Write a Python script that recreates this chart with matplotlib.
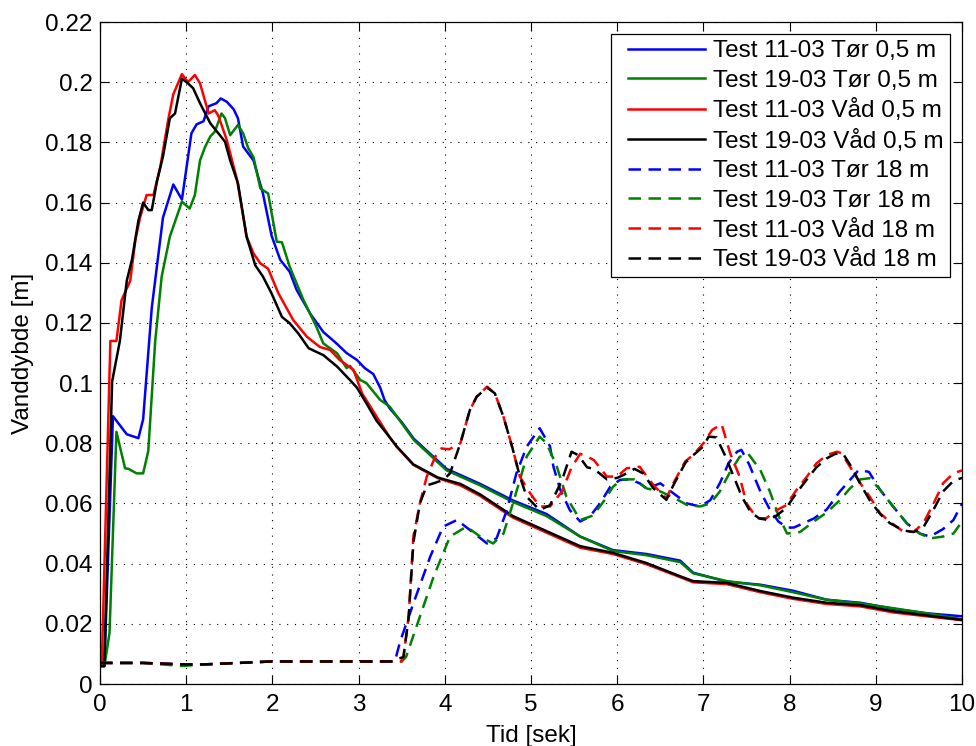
import matplotlib
matplotlib.use("Agg")
import matplotlib.pyplot as plt
from matplotlib.ticker import FuncFormatter
from matplotlib.legend_handler import HandlerLine2D

plt.rcParams['font.family'] = ['Liberation Sans', 'DejaVu Sans']

# ---------------- data ----------------
labels = ["Test 11-03 Tør 0,5 m", "Test 19-03 Tør 0,5 m", "Test 11-03 Våd 0,5 m",
          "Test 19-03 Våd 0,5 m", "Test 11-03 Tør 18 m", "Test 19-03 Tør 18 m",
          "Test 11-03 Våd 18 m", "Test 19-03 Våd 18 m"]

t_tor1103_05 = [0, 0.05, 0.15, 0.31, 0.445, 0.50, 0.60, 0.73, 0.85, 0.95, 1.005, 1.06, 1.12, 1.20,
                1.26, 1.35, 1.40, 1.47, 1.55, 1.60, 1.66, 1.78, 1.89, 1.99, 2.09, 2.20, 2.28, 2.44,
                2.59, 2.75, 2.86, 2.98, 3.07, 3.17, 3.25, 3.30, 3.36, 3.5, 3.64, 4.02, 4.41, 4.79,
                5.18, 5.57, 5.95, 6.34, 6.73, 6.88, 7.27, 7.66, 8.04, 8.43, 8.82, 9.20, 9.59, 10.0]
v_tor1103_05 = [0.006, 0.006, 0.089, 0.083, 0.0817, 0.088, 0.125, 0.155, 0.166, 0.161, 0.172, 0.183,
                0.186, 0.187, 0.192, 0.193, 0.1946, 0.1935, 0.191, 0.188, 0.1786, 0.174, 0.163, 0.149,
                0.141, 0.137, 0.131, 0.123, 0.117, 0.113, 0.110, 0.1077, 0.105, 0.103, 0.0985, 0.0944,
                0.0916, 0.087, 0.0815, 0.0715, 0.0665, 0.061, 0.0565, 0.049, 0.0445, 0.0432, 0.041,
                0.037, 0.034, 0.033, 0.031, 0.028, 0.027, 0.025, 0.0235, 0.0225]

t_tor1903_05 = [0, 0.05, 0.11, 0.19, 0.29, 0.33, 0.425, 0.50, 0.56, 0.64, 0.715, 0.81, 0.95, 1.04,
                1.10, 1.16, 1.22, 1.28, 1.33, 1.41, 1.45, 1.51, 1.60, 1.66, 1.72, 1.78, 1.86, 1.95,
                2.05, 2.11, 2.20, 2.36, 2.51, 2.59, 2.75, 2.86, 2.90, 3.02, 3.09, 3.25, 3.36, 3.64,
                4.02, 4.41, 4.79, 5.18, 5.57, 5.95, 6.34, 6.73, 6.88, 7.27, 7.66, 8.04, 8.43, 8.82,
                9.20, 9.59, 10.0]
v_tor1903_05 = [0.006, 0.0058, 0.017, 0.0838, 0.0717, 0.0715, 0.070, 0.070, 0.0775, 0.114, 0.1354,
                0.1487, 0.1603, 0.158, 0.1625, 0.174, 0.1786, 0.182, 0.1835, 0.1896, 0.188, 0.1824,
                0.1858, 0.183, 0.178, 0.1751, 0.1647, 0.163, 0.147, 0.1468, 0.1387, 0.1276, 0.1187,
                0.1132, 0.1099, 0.105, 0.1057, 0.101, 0.100, 0.0944, 0.0922, 0.0811, 0.071, 0.066,
                0.0605, 0.0558, 0.049, 0.0442, 0.0428, 0.0405, 0.0368, 0.0342, 0.0328, 0.0305, 0.028,
                0.0268, 0.0252, 0.0235, 0.0215]

t_vad1103_05 = [0, 0.02, 0.12, 0.19, 0.25, 0.35, 0.41, 0.464, 0.54, 0.62, 0.70, 0.79, 0.85, 0.95,
                1.02, 1.10, 1.16, 1.26, 1.33, 1.37, 1.47, 1.59, 1.70, 1.78, 1.86, 1.95, 2.07, 2.24,
                2.40, 2.55, 2.67, 2.78, 2.94, 3.04, 3.21, 3.36, 3.44, 3.635, 3.92, 4.18, 4.41, 4.79,
                5.18, 5.57, 5.95, 6.34, 6.73, 6.88, 7.27, 7.66, 8.04, 8.43, 8.82, 9.20, 9.59, 10.0]
v_vad1103_05 = [0.006, 0.006, 0.114, 0.114, 0.1276, 0.134, 0.1476, 0.155, 0.1625, 0.1625, 0.172,
                0.1874, 0.196, 0.2027, 0.200, 0.2024, 0.1996, 0.1896, 0.1907, 0.189, 0.1808, 0.1675,
                0.1487, 0.1431, 0.1398, 0.138, 0.1298, 0.121, 0.1154, 0.112, 0.111, 0.1077, 0.1044,
                0.0966, 0.0888, 0.082, 0.0789, 0.0728, 0.0684, 0.066, 0.0625, 0.0553, 0.0503, 0.0453,
                0.0432, 0.0398, 0.0355, 0.0338, 0.0332, 0.0305, 0.0283, 0.0266, 0.0258, 0.0238,
                0.0225, 0.0212]

t_vad1903_05 = [0, 0.05, 0.14, 0.23, 0.31, 0.37, 0.445, 0.50, 0.56, 0.60, 0.66, 0.73, 0.81, 0.87,
                0.95, 1.02, 1.08, 1.16, 1.28, 1.39, 1.45, 1.51, 1.60, 1.70, 1.80, 1.89, 1.99, 2.11,
                2.20, 2.30, 2.42, 2.50, 2.59, 2.75, 2.90, 2.98, 3.09, 3.21, 3.36, 3.44, 3.635, 3.92,
                4.18, 4.41, 4.79, 5.18, 5.57, 5.95, 6.34, 6.73, 6.88, 7.27, 7.66, 8.04, 8.43, 8.82,
                9.20, 9.59, 10.0]
v_vad1903_05 = [0.006, 0.006, 0.1005, 0.114, 0.134, 0.141, 0.154, 0.160, 0.1575, 0.1575, 0.167,
                0.1753, 0.188, 0.1896, 0.2012, 0.1996, 0.198, 0.193, 0.1863, 0.1824, 0.1802, 0.174,
                0.1664, 0.1487, 0.1392, 0.1354, 0.1298, 0.122, 0.1199, 0.1165, 0.1116, 0.1105, 0.1093,
                0.1055, 0.101, 0.0985, 0.0933, 0.0874, 0.082, 0.079, 0.073, 0.0686, 0.0665, 0.063,
                0.0558, 0.0508, 0.0458, 0.0436, 0.0402, 0.0358, 0.0342, 0.0336, 0.0309, 0.0287, 0.027,
                0.0262, 0.0242, 0.0228, 0.0213]

t_tor1103_18 = [0, 0.5, 1.0, 1.2, 2.0, 3.0, 3.42, 3.48, 3.635, 3.83, 3.98, 4.14, 4.29, 4.49, 4.60,
                4.72, 4.83, 4.95, 5.10, 5.22, 5.26, 5.34, 5.45, 5.57, 5.68, 5.80, 5.92, 6.03, 6.15,
                6.26, 6.34, 6.50, 6.65, 6.81, 6.96, 7.08, 7.19, 7.29, 7.39, 7.44, 7.53, 7.66, 7.77,
                7.87, 7.97, 8.05, 8.28, 8.43, 8.58, 8.70, 8.80, 8.92, 9.05, 9.20, 9.36, 9.51, 9.63,
                9.78, 9.90, 10.0]
v_tor1103_18 = [0.007, 0.007, 0.0065, 0.0065, 0.0075, 0.0075, 0.0075, 0.014, 0.0268, 0.0423, 0.0523,
                0.0545, 0.0512, 0.0467, 0.0484, 0.0578, 0.070, 0.0789, 0.085, 0.079, 0.0722, 0.0645,
                0.0578, 0.054, 0.0556, 0.060, 0.0656, 0.0678, 0.068, 0.0667, 0.065, 0.0667, 0.0634,
                0.060, 0.059, 0.0611, 0.0667, 0.0733, 0.0772, 0.0778, 0.073, 0.064, 0.058, 0.054,
                0.052, 0.052, 0.055, 0.058, 0.0639, 0.0678, 0.0711, 0.0705, 0.0645, 0.059, 0.0534,
                0.050, 0.049, 0.0515, 0.0545, 0.060]

t_tor1903_18 = [0, 0.5, 0.95, 1.2, 2.0, 3.0, 3.5, 3.55, 3.67, 3.87, 4.06, 4.25, 4.41, 4.56, 4.68,
                4.79, 4.95, 5.10, 5.18, 5.30, 5.41, 5.57, 5.72, 5.85, 5.95, 6.05, 6.20, 6.34, 6.50,
                6.65, 6.81, 6.96, 7.08, 7.19, 7.30, 7.42, 7.52, 7.66, 7.77, 7.87, 7.97, 8.12, 8.28,
                8.43, 8.58, 8.70, 8.82, 8.93, 9.05, 9.20, 9.36, 9.51, 9.63, 9.78, 9.90, 10.0]
v_tor1903_18 = [0.007, 0.007, 0.006, 0.0065, 0.0075, 0.0075, 0.0075, 0.009, 0.019, 0.0357, 0.049,
                0.0523, 0.049, 0.0467, 0.050, 0.060, 0.0756, 0.0822, 0.080, 0.0722, 0.0622, 0.0545,
                0.056, 0.061, 0.0655, 0.068, 0.068, 0.065, 0.064, 0.062, 0.0595, 0.059, 0.060, 0.064,
                0.070, 0.0755, 0.0765, 0.0711, 0.064, 0.056, 0.050, 0.0505, 0.054, 0.057, 0.061,
                0.065, 0.068, 0.0684, 0.0645, 0.059, 0.0534, 0.050, 0.0484, 0.049, 0.050, 0.054]

t_vad1103_18 = [0, 0.5, 1.0, 1.2, 2.0, 3.0, 3.5, 3.52, 3.58, 3.635, 3.71, 3.79, 3.89, 3.96, 4.05,
                4.18, 4.29, 4.37, 4.49, 4.58, 4.68, 4.78, 4.87, 4.99, 5.10, 5.22, 5.36, 5.47, 5.57,
                5.65, 5.73, 5.88, 6.00, 6.11, 6.26, 6.42, 6.57, 6.65, 6.79, 6.88, 7.00, 7.10, 7.21,
                7.31, 7.42, 7.50, 7.62, 7.73, 7.85, 7.96, 8.08, 8.20, 8.31, 8.43, 8.55, 8.60, 8.70,
                8.82, 8.93, 9.05, 9.16, 9.32, 9.44, 9.55, 9.67, 9.78, 9.90, 10.0]
v_vad1103_18 = [0.007, 0.007, 0.0065, 0.0065, 0.0075, 0.0075, 0.0075, 0.009, 0.0224, 0.049, 0.060,
                0.0689, 0.0756, 0.0783, 0.078, 0.080, 0.091, 0.0955, 0.0988, 0.0966, 0.0888, 0.0789,
                0.0689, 0.0634, 0.059, 0.059, 0.064, 0.072, 0.0765, 0.0756, 0.0744, 0.0689, 0.069,
                0.0717, 0.0722, 0.0661, 0.0617, 0.0667, 0.074, 0.0761, 0.080, 0.0844, 0.0864, 0.0767,
                0.0689, 0.060, 0.0551, 0.0551, 0.0578, 0.0594, 0.0645, 0.0689, 0.0733, 0.0761,
                0.0772, 0.0767, 0.0722, 0.0667, 0.0622, 0.0567, 0.054, 0.0506, 0.0506, 0.0534, 0.060,
                0.0667, 0.070, 0.071]

t_vad1903_18 = [0, 0.5, 1.0, 1.2, 2.0, 3.0, 3.38, 3.52, 3.58, 3.635, 3.71, 3.79, 3.87, 3.98, 4.06,
                4.18, 4.29, 4.37, 4.49, 4.58, 4.68, 4.78, 4.87, 4.95, 5.10, 5.22, 5.36, 5.47, 5.55,
                5.65, 5.73, 5.88, 6.00, 6.11, 6.20, 6.30, 6.42, 6.57, 6.65, 6.79, 6.88, 7.00, 7.06,
                7.15, 7.25, 7.35, 7.45, 7.55, 7.65, 7.75, 7.85, 7.96, 8.08, 8.20, 8.31, 8.43, 8.53,
                8.62, 8.72, 8.82, 8.93, 9.05, 9.16, 9.32, 9.44, 9.55, 9.67, 9.78, 9.90, 10.0]
v_vad1903_18 = [0.007, 0.007, 0.0065, 0.0065, 0.0075, 0.0075, 0.0075, 0.009, 0.022, 0.047, 0.060,
                0.066, 0.0667, 0.0678, 0.070, 0.080, 0.091, 0.0955, 0.0985, 0.0966, 0.0888, 0.0789,
                0.069, 0.0622, 0.0578, 0.0594, 0.0678, 0.0772, 0.076, 0.072, 0.0715, 0.068, 0.0685,
                0.070, 0.0715, 0.070, 0.065, 0.0612, 0.066, 0.0735, 0.076, 0.079, 0.0822, 0.082,
                0.076, 0.069, 0.062, 0.057, 0.055, 0.0545, 0.056, 0.0585, 0.0635, 0.068, 0.072,
                0.075, 0.0765, 0.0765, 0.072, 0.0665, 0.061, 0.0565, 0.0535, 0.051, 0.0505, 0.052,
                0.058, 0.064, 0.0675, 0.0685]

x_ticks = [0, 1, 2, 3, 4, 5, 6, 7, 8, 9, 10]
y_ticks = [0, 0.02, 0.04, 0.06, 0.08, 0.10, 0.12, 0.14, 0.16, 0.18, 0.20, 0.22]

series = [(t_tor1103_05, v_tor1103_05), (t_tor1903_05, v_tor1903_05),
          (t_vad1103_05, v_vad1103_05), (t_vad1903_05, v_vad1903_05),
          (t_tor1103_18, v_tor1103_18), (t_tor1903_18, v_tor1903_18),
          (t_vad1103_18, v_vad1103_18), (t_vad1903_18, v_vad1903_18)]
colors = ['#0000ff', '#008000', '#ff0000', '#000000'] * 2
styles = ['-'] * 4 + [(0, (5, 3))] * 4

# ---------------- figure ----------------
FS = 17.5
fig = plt.figure(figsize=(9.76, 7.46), dpi=100)
ax = fig.add_axes([0.1025, 0.0831, 0.8832, 0.8874])

for (t, v), c, ls, lab in zip(series, colors, styles, labels):
    ax.plot(t, v, color=c, linestyle=ls, lw=1.8, label=lab)

ax.set_xlim(0, 10)
ax.set_ylim(0, 0.22)
ax.set_xticks(x_ticks)
ax.set_yticks(y_ticks)
ax.yaxis.set_major_formatter(FuncFormatter(lambda v, p: '%g' % round(v, 4)))
ax.tick_params(direction='in', length=6.5, width=0.8, top=True, right=True,
               labelsize=FS, color='k')
ax.tick_params(axis='y', pad=5.5)
ax.tick_params(axis='x', pad=7)
for s in ax.spines.values():
    s.set_linewidth(0.9)
    s.set_color('k')

ax.grid(True, color='k', linestyle=(0, (1, 6)), linewidth=0.8)
ax.set_axisbelow(True)

ax.set_xlabel('Tid [sek]', fontsize=FS, labelpad=7)
ax.set_ylabel('Vanddybde [m]', fontsize=FS, labelpad=8)

leg = ax.legend(loc='upper right', fontsize=FS, handlelength=3.6, handletextpad=0.35,
                labelspacing=0.31, borderpad=0.25, borderaxespad=0.5, fancybox=False,
                framealpha=1, edgecolor='k',
                handler_map={plt.Line2D: HandlerLine2D(xpad=0.45)})
leg.get_frame().set_linewidth(0.9)

fig.savefig('out.png', dpi=100)
